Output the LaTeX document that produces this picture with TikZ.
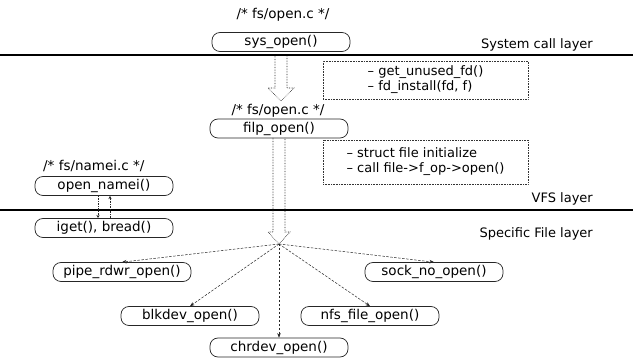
\documentclass[tikz,border=0pt]{standalone}
\usepackage{fontspec}
\setmainfont{DejaVu Sans}
\usetikzlibrary{arrows.meta}
\begin{document}
\begin{tikzpicture}[x=1pt,y=-1pt,
  fn/.style={draw=black!85, line width=0.7pt, rounded corners=8pt, minimum width=138pt, minimum height=19pt, inner sep=0pt, font=\fontsize{13.5}{15}\selectfont},
  lbl/.style={inner sep=0pt, font=\fontsize{13.5}{15}\selectfont},
  layer/.style={inner sep=0pt, anchor=east, font=\fontsize{13}{15}\selectfont},
  note/.style={draw=black!80, line width=0.6pt, densely dotted, inner sep=0pt, align=left, font=\fontsize{13}{15}\selectfont},
  layerline/.style={line width=1.4pt, black},
  hollow/.style={line width=0.6pt, densely dotted, black!85},
  conn/.style={line width=0.5pt, black!85, dash pattern=on 2.5pt off 1.5pt, -{Stealth[length=4.5pt,width=3.5pt]}},
  tick/.style={line width=0.5pt, black!85, dash pattern=on 1.5pt off 1pt, -{Stealth[length=3pt,width=3pt]}}]
\useasboundingbox (0,0) rectangle (633,358);
\fill[white] (0,0) rectangle (633,358);

% layer separators
\coordinate (l1a) at (0,55);  \coordinate (l1b) at (633,55);
\coordinate (l2a) at (0,210); \coordinate (l2b) at (633,210);
\draw[layerline] (l1a) -- (l1b);
\draw[layerline] (l2a) -- (l2b);

% layer names
\node[layer] (tsys) at (593,45) {System call layer};
\node[layer] (tvfs) at (593,199) {VFS layer};
\node[layer] (tspec) at (593,234) {Specific File layer};

% system call layer
\node[lbl] (lab1) at (283,15) {/* fs/open.c */};
\node[fn] (sysopen) at (281,42) {sys\_open()};

% hollow arrow 1
\draw[hollow] (275,56) -- (275,88) -- (268,88) -- (281,101) -- (294,88) -- (287,88) -- (287,56);

% note 1
\node[note, minimum width=205pt, minimum height=38pt] (note1) at (425.5,80)
  {-- get\_unused\_fd()\\-- fd\_install(fd, f)};

% VFS layer
\node[lbl] (lab2) at (278,111) {/* fs/open.c */};
\node[fn] (filpopen) at (279,128.5) {filp\_open()};

\node[note, minimum width=205pt, minimum height=44pt] (note2) at (425.5,162)
  {-- struct file initialize\\-- call file-{}>f\_op-{}>open()};

\node[lbl, anchor=west] (lab3) at (43,166) {/* fs/namei.c */};
\node[fn] (opennamei) at (104,186) {open\_namei()};
\node[fn] (iget) at (104,228) {iget(), bread()};

\draw[tick] (98,196) -- (98,218);
\draw[tick] (110,218) -- (110,196);

% hollow arrow 2 to the junction
\coordinate (jn) at (279,244);
\draw[hollow] (273,138) -- (273,232) -- (268,232) -- (jn) -- (290,232) -- (285,232) -- (285,138);

% specific file layer
\node[fn] (pipe) at (122,272) {pipe\_rdwr\_open()};
\node[fn] (sock) at (434,272) {sock\_no\_open()};
\node[fn] (blk) at (190,316) {blkdev\_open()};
\node[fn] (nfs) at (370,316) {nfs\_file\_open()};
\node[fn] (chr) at (279,347.5) {chrdev\_open()};

\draw[conn] (jn) -- (pipe.north);
\draw[conn] (jn) -- (sock.north);
\draw[conn] (jn) -- (blk.north);
\draw[conn] (jn) -- (nfs.north);
\draw[conn] (jn) -- (chr.north);
\end{tikzpicture}
\end{document}
